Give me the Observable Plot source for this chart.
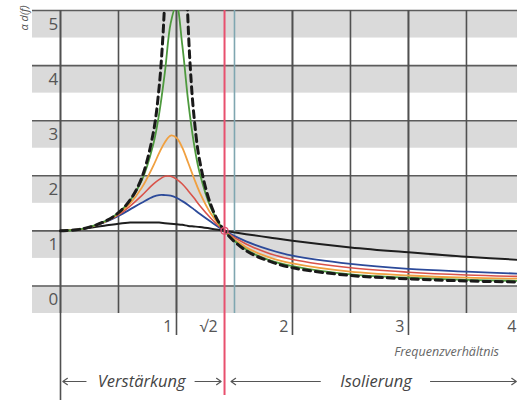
<!DOCTYPE html>
<html><head><meta charset="utf-8">
<script src="https://cdn.jsdelivr.net/npm/d3@7"></script>
<script src="https://cdn.jsdelivr.net/npm/@observablehq/plot@0.6"></script>
<style>html,body{margin:0;padding:0;background:#fff;overflow:hidden}</style>
</head><body><div id="chart"></div>
<script>
// Frequency ratio (x) and transmissibility values
const ratio = [0,0.2,0.4,0.5,0.6,0.7,0.8,0.85,0.9,0.95,1.0,1.05,1.1,1.15,1.2,1.3,1.414,1.6,1.8,2.0,2.5,3.0,3.5,4.0];
const greenSeries  = [1,1.04,1.19,1.33,1.55,1.91,2.57,3.12,3.88,4.77,5.10,4.37,3.37,2.59,2.05,1.40,1.00,0.66,0.47,0.36,0.21,0.15,0.11,0.09];
const orangeSeries = [1,1.04,1.18,1.31,1.50,1.78,2.18,2.41,2.61,2.73,2.69,2.51,2.24,1.96,1.70,1.30,1.00,0.70,0.52,0.41,0.26,0.19,0.15,0.13];
const redSeries    = [1,1.04,1.18,1.29,1.45,1.64,1.85,1.93,1.99,1.99,1.94,1.85,1.73,1.60,1.46,1.22,1.00,0.76,0.59,0.48,0.33,0.25,0.20,0.17];
const blueSeries   = [1,1.04,1.17,1.27,1.39,1.51,1.62,1.65,1.65,1.64,1.60,1.54,1.47,1.39,1.31,1.16,1.00,0.81,0.66,0.55,0.40,0.31,0.26,0.22];
const blackSeries  = [1,1.04,1.10,1.13,1.15,1.15,1.15,1.15,1.14,1.13,1.12,1.11,1.09,1.08,1.07,1.04,1.00,0.94,0.88,0.82,0.70,0.61,0.53,0.47];
const ratioUndamped = [0,0.2,0.4,0.5,0.6,0.7,0.8,0.85,0.88,0.9,0.92,1.0,1.08,1.1,1.12,1.15,1.2,1.3,1.414,1.6,1.8,2.0,2.5,3.0,3.5,4.0];
const undampedSeries = [1,1.04,1.19,1.33,1.56,1.96,2.78,3.60,4.43,5.26,6.51,null,6.01,4.76,3.93,3.10,2.27,1.45,1.00,0.64,0.45,0.33,0.19,0.13,0.09,0.07];

const yTicks = [0,1,2,3,4,5];
const xGrid = [0,0.5,1,1.5,2,2.5,3,3.5,4];
const xMajor = [1,2,3,4];
const xTickValues = [1,2,3];
const xTickLabels = ["1","2","3"];
const lastTickLabel = "4";
const sqrt2Label = "√2";
const resonanceLimit = [Math.SQRT2];
const yLabel = "α d(f)";
const xLabel = "Frequenzverhältnis";
const zoneLabels = ["Verstärkung","Isolierung"];

const rows = (xs, ys) => xs.map((x, i) => ({x, y: ys[i]}));
const font = "'Open Sans', 'DejaVu Sans', sans-serif";
const xDomain = [-0.2414, 3.94];
const arrowY = -1.734;

const lineOpts = (color, w) => ({x: "x", y: "y", stroke: color, strokeWidth: w, curve: "catmull-rom", clip: true});

const chart = Plot.plot({
  width: 517, height: 401,
  marginLeft: 32, marginRight: 0, marginTop: 10, marginBottom: 88,
  x: {domain: xDomain, axis: null},
  y: {domain: [-0.5, 5], axis: null},
  style: {fontFamily: font, background: "white"},
  marks: [
    Plot.rect(yTicks, {x1: xDomain[0], x2: xDomain[1], y1: d => d - 0.5, y2: d => d, fill: "#dadada"}),
    Plot.ruleY(yTicks, {stroke: "#5c5c5c", strokeWidth: 1.6}),
    Plot.ruleX(xGrid.filter(d => d !== 1.5), {stroke: "#505050", strokeWidth: 1.6}),
    Plot.ruleX([1.5], {stroke: "#7fa6b0", strokeWidth: 1.6}),
    Plot.ruleX(xMajor, {stroke: "#505050", strokeWidth: 1.6, insetBottom: -22}),
    Plot.ruleX([0], {stroke: "#505050", strokeWidth: 1.6, insetBottom: -87}),
    Plot.line(rows(ratio, blackSeries), lineOpts("#1e1e1e", 2)),
    Plot.line(rows(ratio, blueSeries), lineOpts("#2c4a9a", 1.8)),
    Plot.line(rows(ratio, redSeries), lineOpts("#d9534a", 1.6)),
    Plot.line(rows(ratio, orangeSeries), lineOpts("#f0a040", 1.8)),
    Plot.line(rows(ratio, greenSeries), lineOpts("#4e9a3e", 1.8)),
    Plot.line(rows(ratioUndamped, undampedSeries), {...lineOpts("#1a1a1a", 3), strokeDasharray: "7,5"}),
    Plot.ruleX(resonanceLimit, {stroke: "#e8506e", strokeWidth: 2, insetBottom: -82}),
    Plot.dot(resonanceLimit, {x: d => d, y: 1, r: 3.5, stroke: "#e05070", strokeWidth: 1.2}),
    Plot.text(yTicks, {y: d => d - 0.25, frameAnchor: "left", dx: 16, text: d => String(d), fontSize: 17, fill: "#555"}),
    Plot.text([yLabel], {frameAnchor: "top-left", dx: -12, dy: 20, rotate: -90, fontSize: 11, fontStyle: "italic", fill: "#555"}),
    Plot.text(xTickValues, {x: d => d, text: (d, i) => xTickLabels[i], frameAnchor: "bottom", dy: 18, dx: -4, textAnchor: "end", fontSize: 16, fill: "#555"}),
    Plot.text([lastTickLabel], {frameAnchor: "bottom-right", dy: 18, dx: -1, textAnchor: "end", fontSize: 16, fill: "#555"}),
    Plot.text(resonanceLimit, {x: d => d, text: () => sqrt2Label, frameAnchor: "bottom", dy: 18, dx: -7, textAnchor: "end", fontSize: 16, fill: "#555"}),
    Plot.text([xLabel], {x: 3.78, frameAnchor: "bottom", dy: 42, textAnchor: "end", fontSize: 12.5, fontStyle: "italic", fill: "#666"}),
    Plot.text(zoneLabels, {x: (d, i) => [0.70, 2.72][i], y: arrowY, fontSize: 16.5, fontStyle: "italic", fill: "#444"}),
    Plot.arrow([[0.22, 0.02], [1.16, 1.385], [2.24, 1.47], [3.19, 3.93]], {x1: d => d[0], x2: d => d[1], y1: arrowY, y2: arrowY, stroke: "#555", strokeWidth: 1.2, headLength: 7, headAngle: 70})
  ]
});
document.getElementById("chart").appendChild(chart);
</script>
</body></html>
